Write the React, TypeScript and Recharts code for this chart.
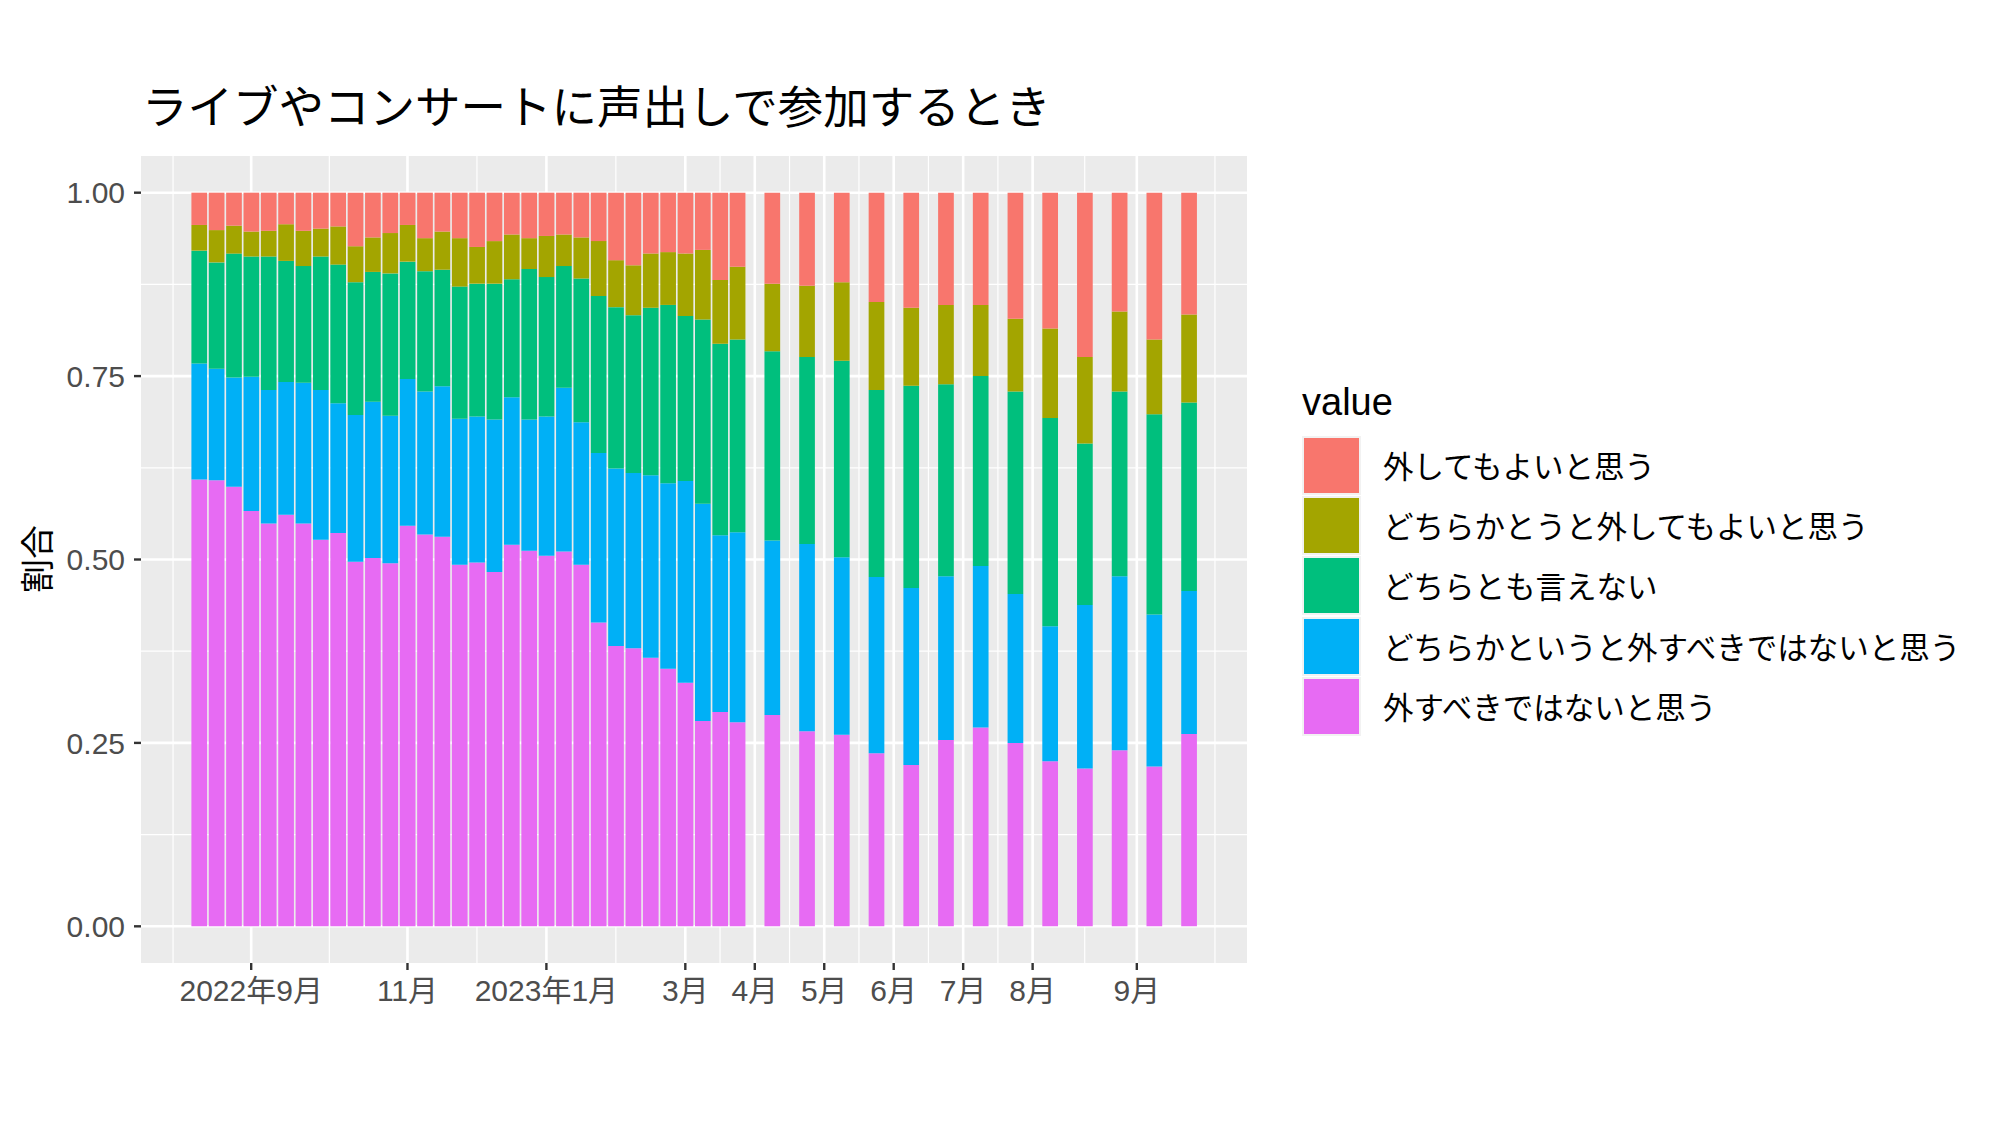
import React from 'react';
import { BarChart, Bar, XAxis, YAxis, CartesianGrid } from 'recharts';

const FONT = '"Liberation Sans", "Noto Sans CJK JP", sans-serif';

// survey waves, in weeks from the first one (weekly, then every two weeks)
const waves = [
  0, 1, 2, 3, 4, 5, 6, 7, 8, 9, 10, 11, 12, 13, 14, 15,
  16, 17, 18, 19, 20, 21, 22, 23, 24, 25, 26, 27, 28, 29, 30, 31,
  33, 35, 37, 39, 41, 43, 45, 47, 49, 51, 53, 55, 57,
];

// 外してもよいと思う
const okToRemove = [
  0.044, 0.051, 0.045, 0.053, 0.052, 0.043, 0.052, 0.049, 0.046, 0.073, 0.061, 0.055, 0.044, 0.062, 0.053, 0.062,
  0.074, 0.066, 0.057, 0.062, 0.059, 0.057, 0.061, 0.066, 0.092, 0.099, 0.083, 0.081, 0.083, 0.078, 0.119, 0.101,
  0.124, 0.127, 0.122, 0.149, 0.157, 0.153, 0.153, 0.172, 0.185, 0.224, 0.162, 0.2, 0.166,
];
// どちらかとうと外してもよいと思う
const ratherOk = [
  0.035, 0.044, 0.038, 0.034, 0.035, 0.05, 0.048, 0.038, 0.052, 0.049, 0.047, 0.055, 0.05, 0.045, 0.052, 0.066,
  0.05, 0.058, 0.061, 0.042, 0.056, 0.043, 0.056, 0.075, 0.064, 0.068, 0.074, 0.072, 0.085, 0.095, 0.087, 0.099,
  0.092, 0.097, 0.107, 0.12, 0.106, 0.108, 0.097, 0.099, 0.122, 0.118, 0.109, 0.102, 0.12,
];
// どちらとも言えない
const neutral = [
  0.154, 0.145, 0.169, 0.164, 0.182, 0.165, 0.159, 0.182, 0.189, 0.181, 0.177, 0.194, 0.16, 0.164, 0.159, 0.18,
  0.181, 0.185, 0.161, 0.205, 0.19, 0.166, 0.196, 0.214, 0.22, 0.215, 0.228, 0.243, 0.225, 0.251, 0.261, 0.263,
  0.258, 0.255, 0.268, 0.255, 0.276, 0.262, 0.259, 0.276, 0.284, 0.22, 0.252, 0.273, 0.257,
];
// どちらかというと外すべきではないと思う
const ratherNot = [
  0.158, 0.152, 0.149, 0.183, 0.182, 0.181, 0.192, 0.204, 0.177, 0.2, 0.213, 0.201, 0.2, 0.195, 0.205, 0.199,
  0.199, 0.208, 0.201, 0.179, 0.19, 0.223, 0.194, 0.231, 0.242, 0.239, 0.249, 0.253, 0.275, 0.296, 0.241, 0.259,
  0.238, 0.255, 0.242, 0.24, 0.241, 0.223, 0.22, 0.203, 0.184, 0.223, 0.237, 0.207, 0.195,
];
// 外すべきではないと思う
const shouldNot = [
  0.609, 0.608, 0.599, 0.566, 0.549, 0.561, 0.549, 0.527, 0.536, 0.497, 0.502, 0.495, 0.546, 0.534, 0.531, 0.493,
  0.496, 0.483, 0.52, 0.512, 0.505, 0.511, 0.493, 0.414, 0.382, 0.379, 0.366, 0.351, 0.332, 0.28, 0.292, 0.278,
  0.288, 0.266, 0.261, 0.236, 0.22, 0.254, 0.271, 0.25, 0.225, 0.215, 0.24, 0.218, 0.262,
];

const xTicks = [3, 12, 20, 28, 32, 36, 40, 44, 48, 54];
const xTickLabels = ['2022年9月', '11月', '2023年1月', '3月', '4月', '5月', '6月', '7月', '8月', '9月'];
const xMinor = [-1.5, 7.5, 16, 24, 30, 34, 38, 42, 46, 51, 58.5];
const yTicks = [0, 0.25, 0.5, 0.75, 1];
const yMinor = [0.125, 0.375, 0.625, 0.875];

// legend order (top of stack first)
const series = [
  { key: 'okToRemove', name: '外してもよいと思う', color: '#F8766D' },
  { key: 'ratherOk', name: 'どちらかとうと外してもよいと思う', color: '#A3A500' },
  { key: 'neutral', name: 'どちらとも言えない', color: '#00BF7D' },
  { key: 'ratherNot', name: 'どちらかというと外すべきではないと思う', color: '#00B0F6' },
  { key: 'shouldNot', name: '外すべきではないと思う', color: '#E76BF3' },
];

const data = waves.map((x, i) => ({
  x,
  okToRemove: okToRemove[i],
  ratherOk: ratherOk[i],
  neutral: neutral[i],
  ratherNot: ratherNot[i],
  shouldNot: shouldNot[i],
}));

const tickStyle = { fill: '#4D4D4D', fontSize: 30, fontFamily: FONT };

export default function App() {
  const stackOrder = [...series].reverse();
  return (
    <div style={{ position: 'absolute', left: 0, top: 0, width: 2000, height: 1125, background: '#fff', fontFamily: FONT }}>
      <div style={{ position: 'absolute', left: 142, top: 84, fontSize: 45.5, lineHeight: '50px', color: '#000', whiteSpace: 'nowrap' }}>
        ライブやコンサートに声出しで参加するとき
      </div>
      <div
        style={{
          position: 'absolute', left: 38, top: 559, fontSize: 34, lineHeight: '34px', color: '#000',
          transform: 'translate(-50%, -50%) rotate(-90deg)', whiteSpace: 'nowrap',
        }}
      >
        割合
      </div>

      <BarChart
        width={2000}
        height={1125}
        data={data}
        margin={{ top: 156, right: 753, bottom: 102, left: 0 }}
        barGap={0}
      >
        <CartesianGrid
          fill="#EBEBEB"
          stroke="#FFFFFF"
          strokeWidth={1.2}
          horizontalValues={yMinor}
          verticalValues={xMinor}
        />
        <CartesianGrid
          stroke="#FFFFFF"
          strokeWidth={2.6}
          horizontalValues={yTicks}
          verticalValues={xTicks}
        />
        <XAxis
          dataKey="x"
          type="number"
          domain={[-3.345, 60.345]}
          allowDataOverflow
          ticks={xTicks}
          interval={0}
          tickFormatter={(v: number) => xTickLabels[xTicks.indexOf(v)] ?? ''}
          axisLine={false}
          tickLine={{ stroke: '#333333', strokeWidth: 2.4 }}
          tickSize={7}
          tickMargin={10}
          height={60}
          tick={tickStyle}
        />
        <YAxis
          type="number"
          domain={[-0.05, 1.05]}
          allowDataOverflow
          ticks={yTicks}
          interval={0}
          tickFormatter={(v: number) => v.toFixed(2)}
          axisLine={false}
          tickLine={{ stroke: '#333333', strokeWidth: 2.4 }}
          tickSize={7}
          tickMargin={9}
          width={141}
          tick={tickStyle}
        />
        {stackOrder.map((s) => (
          <Bar
            key={s.key}
            dataKey={s.key}
            name={s.name}
            stackId="a"
            fill={s.color}
            barSize={15.7}
            isAnimationActive={false}
          />
        ))}
      </BarChart>

      <div style={{ position: 'absolute', left: 1302, top: 381, fontSize: 38, lineHeight: '42px', color: '#000' }}>
        value
      </div>
      {series.map((s, i) => (
        <div key={s.key}>
          <div
            style={{
              position: 'absolute', left: 1302, top: 436 + i * 60.2, width: 59, height: 59, background: '#F2F2F2',
            }}
          >
            <div style={{ position: 'absolute', left: 2, top: 2, width: 55, height: 55, background: s.color }} />
          </div>
          <div
            style={{
              position: 'absolute', left: 1383, top: 467 + i * 60.2 - 20, fontSize: 30.5, lineHeight: '40px',
              color: '#000', whiteSpace: 'nowrap',
            }}
          >
            {s.name}
          </div>
        </div>
      ))}
    </div>
  );
}
